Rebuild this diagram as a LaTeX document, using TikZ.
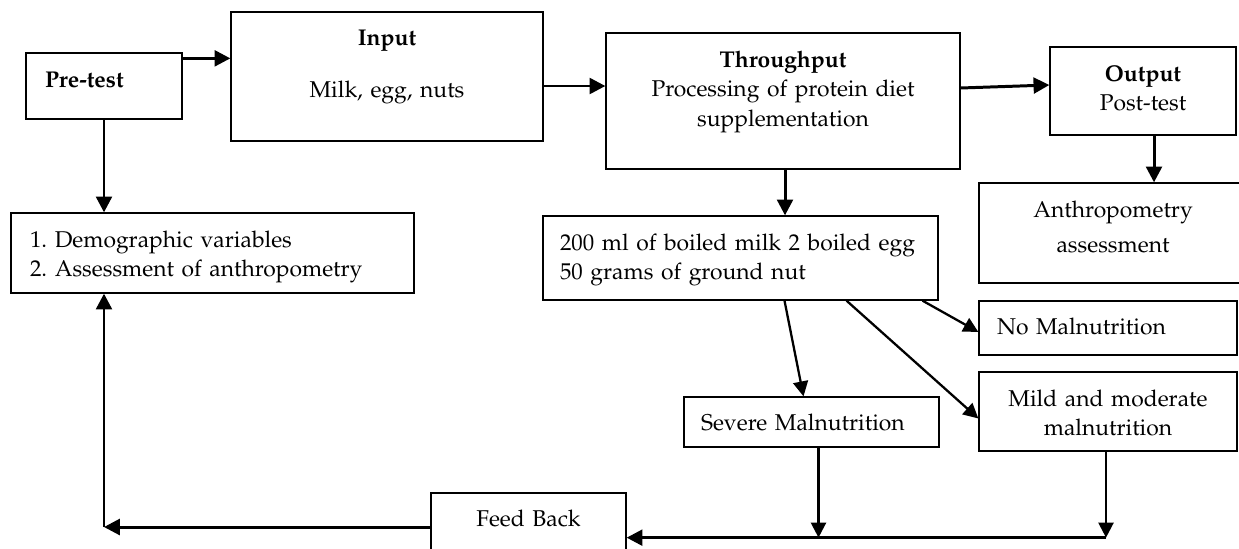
\documentclass[tikz,border=0pt]{standalone}
\usepackage[T1]{fontenc}
\renewcommand{\rmdefault}{ppl}
\usetikzlibrary{arrows.meta, calc}

\begin{document}
\begin{tikzpicture}[x=0.02cm, y=-0.02cm,
    box/.style={draw, line width=0.75pt, inner ysep=0pt, font=\fontsize{13pt}{17pt}\selectfont\frenchspacing},
    arr/.style={line width=1.7pt, -{Triangle[length=9pt, width=9pt]}},
    tarr/.style={line width=1.3pt, -{Triangle[length=8.5pt, width=8.5pt]}}]
    \useasboundingbox (0,0) rectangle (1239,548);

    % Top row
    \node[box, inner xsep=0.38cm, text width=2.36cm, align=left, text height=0.68cm, text depth=0.64cm] (pre) at (104,86) {\textbf{Pre-test}};
    \node[box, inner xsep=0.2cm, text width=5.84cm, align=center, text height=0.66cm, text depth=1.92cm] (input) at (387,76.5) {\textbf{Input}\\[13pt]Milk, egg, nuts};
    \node[box, inner xsep=0.2cm, text width=6.68cm, align=center, text height=0.68cm, text depth=2.04cm] (thr) at (783,101) {\textbf{Throughput}\\Processing of protein diet\\supplementation};
    \node[box, inner xsep=0.2cm, text width=3.32cm, align=center, text height=0.68cm, text depth=1.08cm] (out) at (1143,91) {\textbf{Output}\\Post-test};

    % Second row
    \node[box, inner xsep=0.38cm, text width=7.3cm, align=left, text height=0.68cm, text depth=0.92cm] (demo) at (212.5,253) {1. Demographic variables\\2. Assessment of anthropometry};
    \node[box, inner xsep=0.34cm, text width=7.22cm, align=left, text height=0.68cm, text depth=1.0cm] (milk) at (740.5,258) {\mbox{200 ml of boiled milk 2 boiled egg}\\50 grams of ground nut};
    \node[box, inner xsep=0.2cm, text width=4.96cm, align=center, text height=0.68cm, text depth=1.32cm] (anth) at (1113,233) {Anthropometry\\[3pt]assessment};

    % Outcomes
    \node[box, inner xsep=0.36cm, text width=4.44cm, align=left, text height=0.66cm, text depth=0.42cm] (nomal) at (1108,328) {No Malnutrition};
    \node[box, inner xsep=0.2cm, text width=4.76cm, align=center, text height=0.68cm, text depth=0.9cm] (mild) at (1108,411.5) {Mild and moderate\\malnutrition};
    \node[box, inner xsep=0.34cm, text width=4.42cm, align=left, text height=0.66cm, text depth=0.34cm] (severe) at (811.5,422) {Severe Malnutrition};
    \node[box, inner xsep=0.2cm, text width=3.5cm, align=center, text height=0.66cm, text depth=0.52cm] (fb) at (528.5,522.5) {Feed Back};

    % Main flow
    \draw[arr] ($(pre.north east)+(0,6)$) coordinate (p1) -- (p1 -| input.west);
    \draw[arr] ($(input.east)+(0,9.5)$) coordinate (p2) -- (p2 -| thr.west);
    \draw[arr] ($(thr.east)+(0,-13)$) -- ($(out.west)+(0,-6)$);
    \draw[arr] ($(out.south)+(11,0)$) coordinate (p4) -- (p4 |- anth.north);
    \draw[arr] (pre.south) -- (pre.south |- demo.north);
    \draw[arr] ($(thr.south)+(2,0)$) coordinate (p6) -- (p6 |- milk.north);

    % Branches
    \draw[tarr] ($(milk.south)+(44,0)$) -- ($(severe.north)+(-8,0)$);
    \draw[tarr] ($(milk.south)+(106,0)$) -- ($(mild.west)+(0,7)$);
    \draw[tarr] ($(milk.south)+(182,0)$) -- ($(nomal.west)+(0,4)$);

    % Feedback loop
    \draw[tarr] ($(mild.south)+(-2,0)$) -- ++(0,86) coordinate (m1);
    \draw[tarr] ($(severe.south)+(7,0)$) coordinate (s1) -- (s1 |- m1);
    \draw[arr] (m1) -- (m1 -| fb.east);
    \draw[arr] ($(fb.west)+(0,4.5)$) coordinate (f1) -- (f1 -| pre.south) coordinate (f2);
    \draw[arr] (f2) -- (f2 |- demo.south);
\end{tikzpicture}
\end{document}
